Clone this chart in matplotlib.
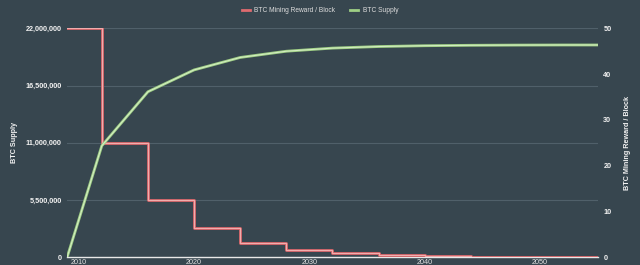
import matplotlib
matplotlib.use("Agg")
import matplotlib.pyplot as plt
from matplotlib.ticker import FuncFormatter

plt.rcParams['font.family'] = ['Liberation Sans', 'DejaVu Sans']

# halving years and values
years = [2009, 2012, 2016, 2020, 2024, 2028, 2032, 2036, 2040, 2044, 2048, 2052, 2055]
reward = [50, 25, 12.5, 6.25, 3.125, 1.5625, 0.78125, 0.390625, 0.1953, 0.0977, 0.0488, 0.0244, 0.0244]
supply = [0, 10700000, 15900000, 18000000, 19200000, 19800000, 20100000, 20250000,
          20330000, 20370000, 20390000, 20400000, 20400000]
left_ticks = [0, 5500000, 11000000, 16500000, 22000000]
right_ticks = [0, 10, 20, 30, 40, 50]
x_ticks = [2010, 2020, 2030, 2040, 2050]

bg = '#37464f'
red = '#df6b6f'
green = '#9fcf85'
txt = '#f2f2f2'

fig = plt.figure(figsize=(6.4, 2.65), dpi=100, facecolor=bg)
ax = fig.add_axes([0.105, 0.03, 0.829, 0.863])
ax.set_facecolor(bg)
ax2 = ax.twinx()   # reward
ax3 = ax.twinx()   # supply on top, same scale as ax

ax2.step(years, reward, where='post', color=red, lw=2.0, label='BTC Mining Reward / Block')
ax2.step(years, reward, where='post', color='#f2b0b0', lw=0.7)
l2, = ax3.plot(years, supply, color=green, lw=2.0, label='BTC Supply')
ax3.plot(years, supply, color='#d6eec6', lw=0.7)

ax.set_xlim(2009, 2055)
ax.set_ylim(0, 22000000)
ax3.set_ylim(0, 22000000)
ax2.set_ylim(0, 50)
ax3.set_yticks([])

ax.set_yticks(left_ticks)
ax.yaxis.set_major_formatter(FuncFormatter(lambda v, p: f'{int(v):,}'))
ax2.set_yticks(right_ticks)
ax.set_xticks(x_ticks)

ax.grid(axis='y', color='#50606a', lw=0.8)
ax.grid(axis='x', visible=False)

for a in (ax, ax2, ax3):
    for s in a.spines.values():
        s.set_visible(False)
    a.tick_params(length=0, colors=txt)
ax.spines['bottom'].set_visible(True)
ax.spines['bottom'].set_color('#e8e8e8')
ax.spines['bottom'].set_linewidth(1)

for lab in ax.get_yticklabels() + ax2.get_yticklabels():
    lab.set_fontsize(5.2)
    lab.set_fontweight('bold')
for lab in ax.get_xticklabels():
    lab.set_fontsize(5.2)
    lab.set_color('#e0e0e0')
ax.tick_params(axis='y', pad=4)
ax2.tick_params(axis='y', pad=4)
ax.tick_params(axis='x', pad=1.5)

ax.set_ylabel('BTC Supply', color=txt, fontsize=5.2, fontweight='bold', labelpad=5)
ax2.set_ylabel('BTC Mining Reward / Block', color=txt, fontsize=5.2, fontweight='bold', labelpad=9)

h1, lb1 = ax2.get_legend_handles_labels()
leg = fig.legend([h1[0], l2], [lb1[0], 'BTC Supply'], loc='upper center',
                 bbox_to_anchor=(0.5, 0.995), ncol=2, frameon=False, fontsize=4.8,
                 handlelength=1.2, handletextpad=0.7, columnspacing=2.2)
for t in leg.get_texts():
    t.set_color('#dddddd')

fig.savefig('out.png', dpi=100, facecolor=bg)
